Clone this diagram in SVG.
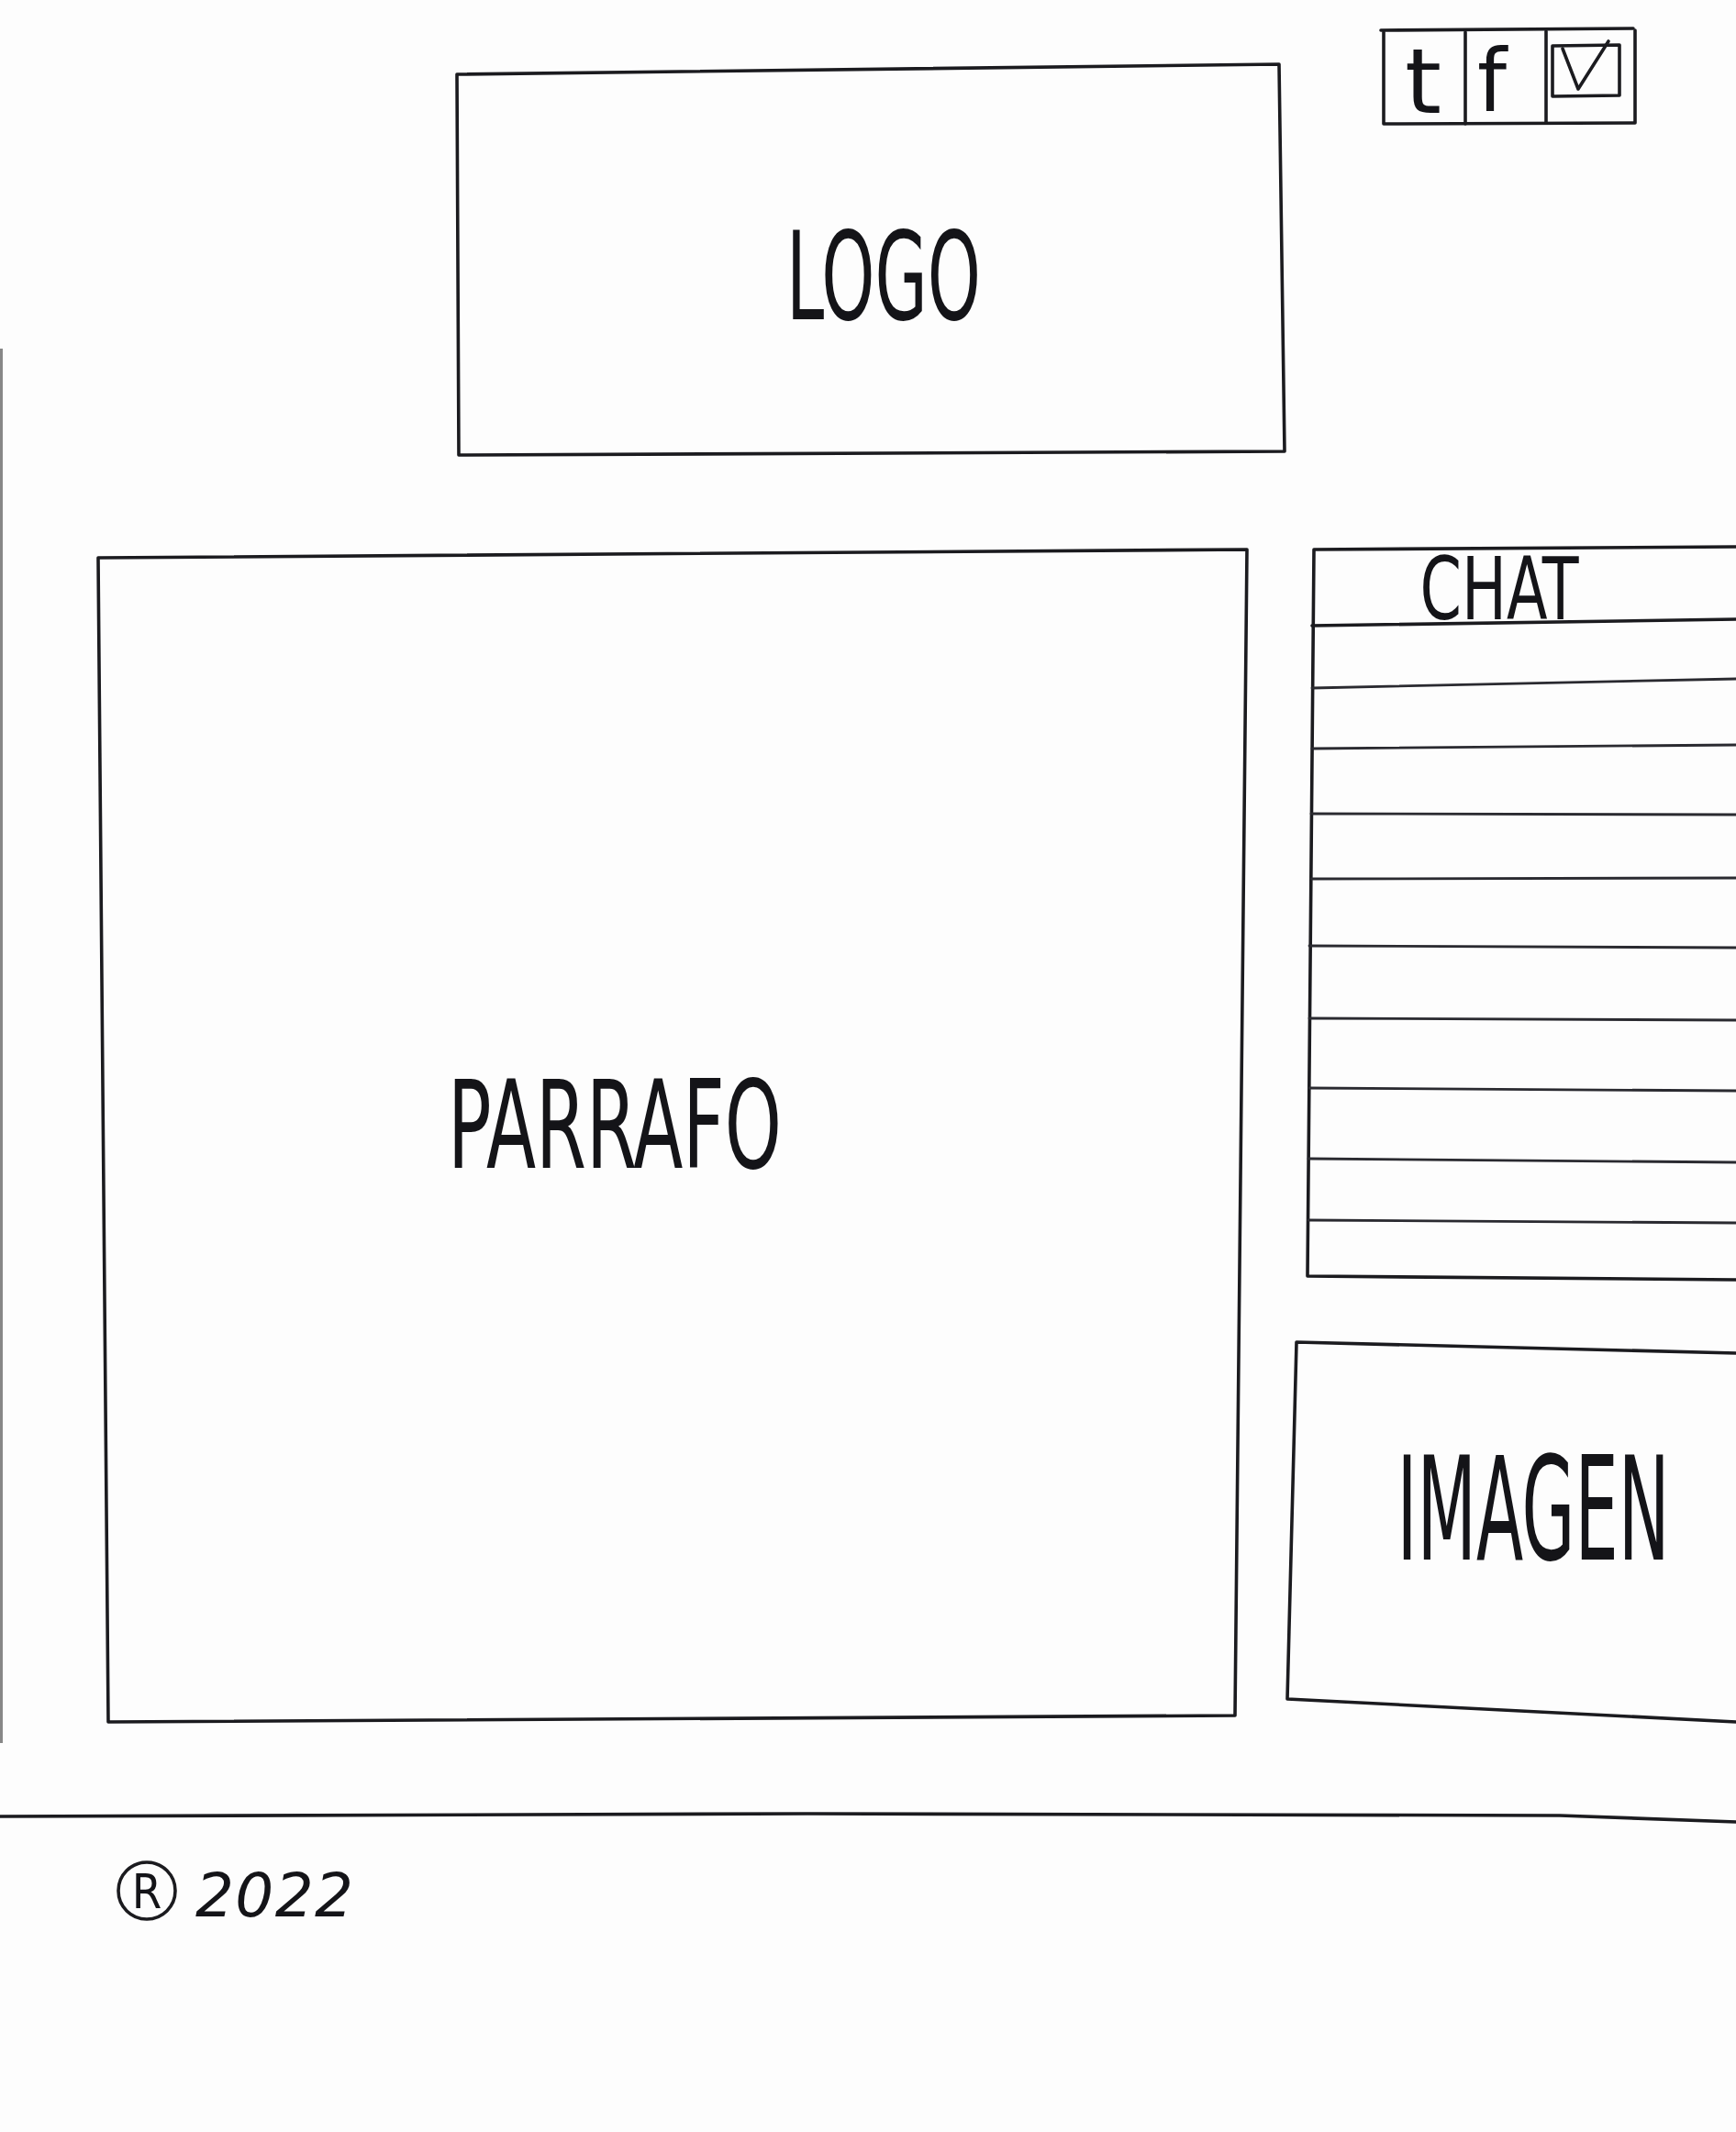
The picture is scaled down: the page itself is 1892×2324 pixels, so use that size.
<svg xmlns="http://www.w3.org/2000/svg" width="1892" height="2324" viewBox="0 0 1892 2324">
<style>
.ln{fill:none;stroke:#1b1b1f;stroke-width:3.6;stroke-linecap:round;stroke-linejoin:round}
.thin{fill:none;stroke:#2a2a30;stroke-width:2.8;stroke-linecap:round}
.lbl{font-family:"Liberation Sans Narrow","DejaVu Sans Condensed","Liberation Sans",sans-serif;fill:#141418;text-anchor:middle}
.hand{font-family:"DejaVu Sans","Liberation Sans",sans-serif;fill:#141418;font-style:italic}
</style>
<rect width="1892" height="2324" fill="#fdfdfd"/>
<path d="M1 380 L1 1900" stroke="#3a3a3a" stroke-width="4" opacity="0.6"/>

<g id="social">
  <path class="ln" d="M1505 33 L1780 31" stroke-width="7"/>
  <path class="ln" d="M1508 35 L1508 135 L1782 134 L1782 33"/>
  <path class="ln" d="M1597 35 L1597 135 M1685 34 L1685 134"/>
  <text class="lbl" transform="translate(1551,123) scale(1,1.35)" font-size="72" textLength="40" lengthAdjust="spacingAndGlyphs">t</text>
  <text class="lbl" transform="translate(1626,121) scale(1,1.3)" font-size="72" textLength="32" lengthAdjust="spacingAndGlyphs">f</text>
  <path class="ln" d="M1692 50 L1765 49 L1765 104 L1692 105 Z"/>
  <path class="ln" d="M1703 53 L1720 97 L1753 45" stroke-width="6"/>
</g>

<g id="logo">
  <path class="ln" d="M498 81 L1394 70 L1400 492 L500 496 Z"/>
  <text class="lbl" transform="translate(963,348) scale(1,1.5)" font-size="89" textLength="212" lengthAdjust="spacingAndGlyphs">LOGO</text>
</g>

<g id="parrafo">
  <path class="ln" d="M107 608 L1359 599 L1346 1870 L118 1877 Z"/>
  <text class="lbl" transform="translate(670,1273) scale(1,1.45)" font-size="92" textLength="364" lengthAdjust="spacingAndGlyphs">PARRAFO</text>
</g>

<g id="chat">
  <path class="ln" d="M1892 596 L1432 599 L1425 1391 L1892 1395"/>
  <path class="ln" d="M1430 682 L1892 675" stroke-width="4.5"/>
  <text class="lbl" transform="translate(1634,675) scale(1,1.2)" font-size="78" textLength="173" lengthAdjust="spacingAndGlyphs" fill="#3a3a44">CHAT</text>
  <g class="thin">
    <path d="M1430 750 L1892 740"/>
    <path d="M1430 816 L1892 812"/>
    <path d="M1429 887 L1892 888"/>
    <path d="M1429 958 L1892 957"/>
    <path d="M1427 1031 L1892 1033"/>
    <path d="M1427 1110 L1892 1112"/>
    <path d="M1427 1186 L1892 1189"/>
    <path d="M1426 1263 L1892 1267"/>
    <path d="M1426 1330 L1892 1333"/>
  </g>
</g>

<g id="imagen">
  <path class="ln" d="M1892 1475 L1413 1463 L1403 1852 L1892 1877"/>
  <text class="lbl" transform="translate(1671,1700) scale(1,1.7)" font-size="92" textLength="297" lengthAdjust="spacingAndGlyphs">IMAGEN</text>
</g>

<g id="footer">
  <path class="ln" d="M0 1980 L880 1977 L1700 1979 L1892 1986"/>
  <circle cx="160" cy="2061" r="31" class="ln" stroke-width="4"/>
  <text class="lbl" x="160" y="2080" font-size="52">R</text>
  <text class="hand" x="213" y="2089" font-size="66" textLength="172" lengthAdjust="spacing">2022</text>
</g>
</svg>
